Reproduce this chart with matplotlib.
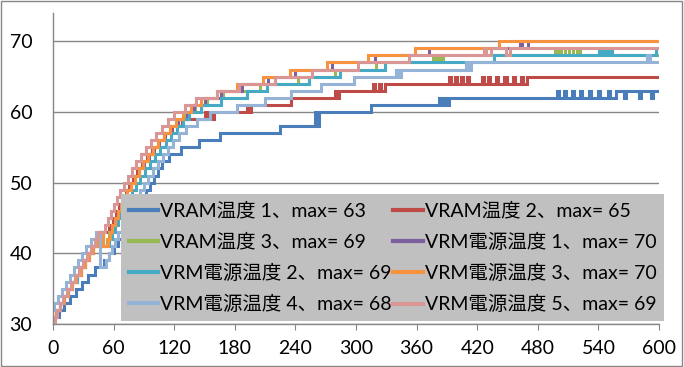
import matplotlib
matplotlib.use("Agg")
import matplotlib.pyplot as plt
from matplotlib.patches import Rectangle

plt.rcParams['font.family'] = ['Lato', 'Noto Sans CJK JP', 'DejaVu Sans']

# step data: time (s) where each new temperature starts
vram1_t = [0, 6, 11, 17, 23, 29, 35, 42, 50, 55, 60, 64, 68, 72, 76, 80, 84, 88, 92, 96, 100,
           104, 108, 115, 127, 145, 165, 225, 259, 261, 263, 315, 382, 384, 387, 389, 392,
           499, 501, 506, 508, 514, 516, 522, 524, 531, 533, 540, 542, 549, 551, 557, 565,
           567, 580, 582, 592, 594, 600]
vram1_v = [31, 32, 33, 34, 35, 36, 37, 38, 39, 40, 41, 42, 43, 44, 45, 46, 47, 48, 49, 50, 51,
           52, 53, 54, 55, 56, 57, 58, 60, 58, 60, 61, 62, 61, 62, 61, 62,
           63, 62, 63, 62, 63, 62, 63, 62, 63, 62, 63, 62, 63, 62, 63, 62,
           63, 62, 63, 62, 63, 63]

vram2_t = [0, 3, 7, 11, 15, 19, 23, 28, 32, 36, 40, 44, 48, 55, 59, 62, 65, 68, 72, 75, 79,
           83, 88, 93, 98, 104, 110, 118, 128, 150, 152, 155, 157, 159, 192, 194, 196, 236,
           279, 281, 283, 317, 319, 323, 325, 329, 392, 394, 398, 400, 404, 406, 410, 412,
           425, 427, 431, 433, 439, 441, 447, 449, 455, 457, 463, 465, 469, 600]
vram2_v = [31, 32, 33, 34, 35, 36, 37, 38, 39, 40, 41, 42, 43, 44, 45, 46, 47, 48, 49, 50, 51,
           52, 53, 54, 55, 56, 57, 58, 59, 60, 59, 60, 59, 60, 61, 60, 61, 62,
           63, 62, 63, 64, 63, 64, 63, 64, 65, 64, 65, 64, 65, 64, 65, 64,
           65, 64, 65, 64, 65, 64, 65, 64, 65, 64, 65, 64, 65, 65]

vram3_t = [0, 3, 7, 11, 15, 19, 23, 27, 31, 35, 39, 43, 47, 49, 53, 55, 58, 61, 64, 67, 70,
           73, 77, 81, 85, 90, 95, 100, 105, 111, 117, 124, 132, 141, 152, 168, 205, 243,
           279, 320, 376, 378, 381, 384, 386, 497, 500, 503, 507, 511, 515, 519, 522, 600]
vram3_v = [31, 32, 33, 34, 35, 36, 37, 38, 39, 40, 41, 42, 43, 41, 42, 43, 44, 45, 46, 47, 48,
           49, 50, 51, 52, 53, 54, 55, 56, 57, 58, 59, 60, 61, 62, 63, 64, 65,
           66, 67, 68, 67, 68, 67, 68, 69, 68, 69, 68, 69, 68, 69, 68, 68]

vrm1_t = [0, 3, 7, 11, 15, 19, 23, 28, 32, 36, 40, 44, 47, 49, 54, 56, 58, 61, 64, 67, 70,
          73, 77, 81, 85, 90, 95, 100, 105, 111, 117, 124, 133, 140, 150, 166, 187, 213,
          240, 276, 319, 372, 462, 464, 470, 600]
vrm1_v = [31, 32, 33, 34, 35, 36, 37, 38, 39, 40, 41, 42, 43, 41, 42, 43, 44, 45, 46, 47, 48,
          49, 50, 51, 52, 53, 54, 55, 56, 57, 58, 59, 60, 61, 62, 63, 64, 65,
          66, 67, 68, 69, 70, 69, 70, 70]

vrm2_t = [0, 3, 7, 11, 15, 19, 24, 28, 32, 36, 40, 44, 47, 49, 55, 58, 61, 64, 67, 70, 74,
          78, 82, 86, 91, 96, 101, 106, 112, 117, 123, 129, 135, 147, 166, 192, 212, 253,
          284, 329, 437, 541, 543, 545, 547, 550, 553, 597, 600]
vrm2_v = [31, 32, 33, 34, 35, 36, 37, 38, 39, 40, 41, 42, 43, 41, 42, 43, 44, 45, 46, 47, 48,
          49, 50, 51, 52, 53, 54, 55, 56, 57, 58, 59, 60, 61, 62, 63, 64, 65,
          66, 67, 68, 69, 68, 69, 68, 69, 68, 69, 69]

vrm3_t = [0, 3, 7, 11, 15, 19, 23, 28, 32, 36, 40, 44, 47, 49, 54, 56, 58, 61, 64, 67, 70,
          73, 77, 81, 85, 89, 94, 99, 104, 110, 116, 122, 129, 137, 147, 162, 182, 208,
          235, 271, 312, 358, 442, 600]
vrm3_v = [31, 32, 33, 34, 35, 36, 37, 38, 39, 40, 41, 42, 43, 41, 42, 43, 44, 45, 46, 47, 48,
          49, 50, 51, 52, 53, 54, 55, 56, 57, 58, 59, 60, 61, 62, 63, 64, 65,
          66, 67, 68, 69, 70, 70]

vrm4_t = [0, 1, 5, 9, 13, 17, 21, 25, 29, 33, 38, 43, 47, 52, 55, 58, 61, 64, 68, 71, 74,
          78, 82, 86, 90, 94, 99, 104, 109, 114, 119, 125, 132, 143, 155, 182, 210, 236,
          265, 298, 340, 342, 345, 409, 411, 414, 588, 591, 600]
vrm4_v = [32, 33, 34, 35, 36, 37, 38, 39, 40, 41, 42, 43, 38, 39, 40, 41, 42, 43, 44, 45, 46,
          47, 48, 49, 50, 51, 52, 53, 54, 55, 56, 57, 58, 59, 60, 61, 62, 63,
          64, 65, 66, 65, 66, 67, 66, 67, 68, 67, 67]

vrm5_t = [0, 2, 4, 7, 10, 14, 18, 22, 26, 30, 34, 38, 42, 45, 51, 54, 57, 60, 63, 66, 70,
          74, 78, 82, 87, 92, 97, 102, 108, 114, 120, 131, 142, 162, 184, 220, 256, 302,
          352, 427, 429, 434, 448, 452, 600]
vrm5_v = [30, 31, 32, 33, 34, 35, 36, 37, 38, 39, 40, 41, 42, 43, 44, 45, 46, 47, 48, 49, 50,
          51, 52, 53, 54, 55, 56, 57, 58, 59, 60, 61, 62, 63, 64, 65, 66, 67,
          68, 69, 68, 69, 68, 69, 69]

labels = ['VRAM温度 1、max= 63', 'VRAM温度 2、max= 65', 'VRAM温度 3、max= 69',
          'VRM電源温度 1、max= 70', 'VRM電源温度 2、max= 69', 'VRM電源温度 3、max= 70',
          'VRM電源温度 4、max= 68', 'VRM電源温度 5、max= 69']
colors = ['#4A7EBB', '#BE4B48', '#98B954', '#7D60A0', '#46AAC5', '#F69240',
          '#95B3D7', '#D99694']

x_ticks = [0, 60, 120, 180, 240, 300, 360, 420, 480, 540, 600]
y_ticks = [30, 40, 50, 60, 70]


def main():
    series = [(vram1_t, vram1_v), (vram2_t, vram2_v), (vram3_t, vram3_v),
              (vrm1_t, vrm1_v), (vrm2_t, vrm2_v), (vrm3_t, vrm3_v),
              (vrm4_t, vrm4_v), (vrm5_t, vrm5_v)]

    fig = plt.figure(figsize=(6.84, 3.67), dpi=100)
    ax = fig.add_axes([0.0775, 0.1172, 0.886, 0.8474])

    grey = '#868686'
    handles = []
    for (t, v), lab, c in zip(series, labels, colors):
        h, = ax.plot(t, v, drawstyle='steps-post', color=c, lw=2.2, label=lab,
                     solid_joinstyle='miter')
        handles.append(h)

    ax.set_xlim(0, 600)
    ax.set_ylim(30, 74)
    ax.set_xticks(x_ticks)
    ax.set_yticks(y_ticks)
    ax.yaxis.grid(True, color=grey, lw=1)
    ax.set_axisbelow(True)
    for s in ['top', 'right']:
        ax.spines[s].set_visible(False)
    for s in ['left', 'bottom']:
        ax.spines[s].set_color(grey)
        ax.spines[s].set_linewidth(1)
    ax.tick_params(axis='x', length=4.5, color=grey, labelsize=14, pad=7)
    ax.tick_params(axis='y', length=0, labelsize=14, pad=15)

    # column-wise ordering so the legend reads row by row like the original
    order = [0, 2, 4, 6, 1, 3, 5, 7]
    leg = ax.legend([handles[i] for i in order], [labels[i] for i in order],
                    ncol=2, loc='upper left', mode='expand',
                    bbox_to_anchor=(0.1122, 0.0225, 0.8961, 0.3955),
                    borderaxespad=0, borderpad=0.4, fontsize=14,
                    handlelength=1.5, handletextpad=0.1, labelspacing=0.68,
                    fancybox=False, framealpha=1, facecolor='#C0C0C0',
                    edgecolor='none')
    for ln in leg.get_lines():
        ln.set_linewidth(3)

    fig.patches.append(Rectangle((0.002, 0.003), 0.995, 0.994, transform=fig.transFigure,
                                 fill=False, edgecolor=grey, lw=1))

    fig.savefig('out.png', dpi=100)


if __name__ == "__main__":
    main()
